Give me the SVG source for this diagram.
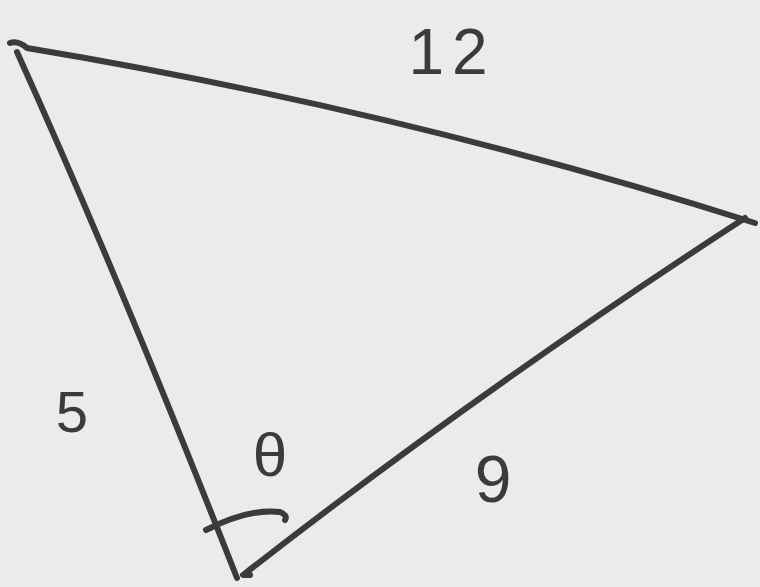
<svg xmlns="http://www.w3.org/2000/svg" width="760" height="587" viewBox="0 0 760 587">
<style>
.ln{fill:none;stroke:#3b3b3b;stroke-width:6;stroke-linecap:round;stroke-linejoin:round}
.lb{font-family:"Liberation Sans",Arial,sans-serif;fill:#3b3b3b}
</style>
<rect width="760" height="587" fill="#ebebea"/>
<g id="edges">
<path class="ln" d="M10,43 Q18,40 27,48 Q400,110 755,223"/>
<path class="ln" d="M17,52 Q120,280 237,578"/>
<path class="ln" d="M745,218 Q480,390 243,575 L250,575"/>
<path class="ln" d="M206,530 Q250,508 280,512 Q288,515 285,520"/>
</g>
<g id="labels">
<text class="lb" x="452" y="74" font-size="64" text-anchor="middle" letter-spacing="8">12</text>
<text class="lb" x="72" y="432" font-size="58" text-anchor="middle">5</text>
<text class="lb" x="270" y="476" font-size="62" text-anchor="middle">θ</text>
<text class="lb" x="493" y="502" font-size="66" text-anchor="middle">9</text>
</g>
</svg>
